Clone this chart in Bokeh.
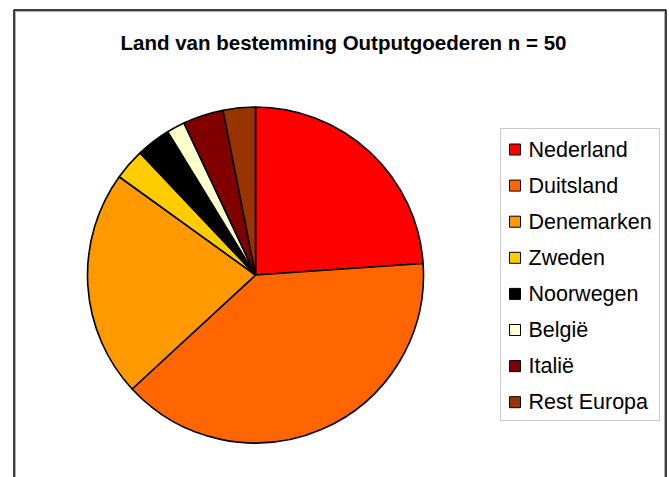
import numpy as np
from bokeh.plotting import figure
from bokeh.models import Range1d, BoxAnnotation, ColumnDataSource
from bokeh.core.properties import value
from bokeh.embed import file_html
from bokeh.resources import INLINE

# ---- data ----
chart_title = "Land van bestemming Outputgoederen n = 50"
countries = ["Nederland", "Duitsland", "Denemarken", "Zweden",
             "Noorwegen", "België", "Italië", "Rest Europa"]
shares = [23.9, 39.2, 21.8, 3.0, 3.3, 1.75, 3.9, 3.1]
colors = ["#FF0000", "#FF6600", "#FF9900", "#FFCC00",
          "#000000", "#FFFFCC", "#800000", "#993300"]

# ---- canvas: data units == page pixels (y flipped: y = 477 - page_y) ----
W, H = 669, 477
def py(y):
    return H - y

p = figure(width=W, height=H, x_range=Range1d(0, W), y_range=Range1d(0, H),
           output_backend="svg", toolbar_location=None, min_border=0,
           x_axis_location=None, y_axis_location=None)
p.grid.visible = False
p.outline_line_color = None
p.background_fill_color = "white"
p.border_fill_color = "white"

# chart frame (open at the bottom: it continues below the view)
L, R, T = 13.5, 665.5, 9.5
p.multi_line(xs=[[L, L, R, R]], ys=[[py(480), py(T), py(T), py(480)]],
             line_color="black", line_width=1.5)
p.multi_line(xs=[[L + 1.5, L + 1.5, R - 1.5, R - 1.5]],
             ys=[[py(480), py(T + 1.5), py(T + 1.5), py(480)]],
             line_color="#b0b0b0", line_width=1)

# ---- pie ----
frac = np.array(shares) / np.sum(shares)
cum = np.concatenate([[0.0], np.cumsum(frac)])
start = np.pi / 2 - cum[:-1] * 2 * np.pi
end = np.pi / 2 - cum[1:] * 2 * np.pi
src = ColumnDataSource(dict(start=start, end=end, color=colors, name=countries))
p.wedge(x=255, y=py(274.5), radius=168, start_angle="start", end_angle="end",
        direction="clock", fill_color="color", line_color="black", line_width=1.6,
        source=src)

# ---- title ----
p.text(x=[343], y=[py(42)], text=[chart_title], text_font=value("Liberation Sans"),
       text_font_size="20.5px", text_font_style="bold", text_align="center",
       text_baseline="alphabetic", text_color="black")

# ---- legend ----
p.add_layout(BoxAnnotation(left=500, right=659, top=py(128), bottom=py(420),
                           fill_color="white", fill_alpha=1.0, line_color="#505050",
                           line_width=1, level="underlay"))
row0, step = 149.0, 36.1
ly = [py(row0 + i * step) for i in range(len(countries))]
leg = ColumnDataSource(dict(y=ly, color=colors, name=countries))
p.scatter(x=514.5, y="y", marker="square", size=11, fill_color="color",
          line_color="black", line_width=1, source=leg)
p.text(x=528, y="y", text="name", text_font=value("Liberation Sans"),
       text_font_size="21.5px", text_baseline="middle", text_color="black", source=leg)

open("out.html", "w").write(file_html(p, INLINE))
